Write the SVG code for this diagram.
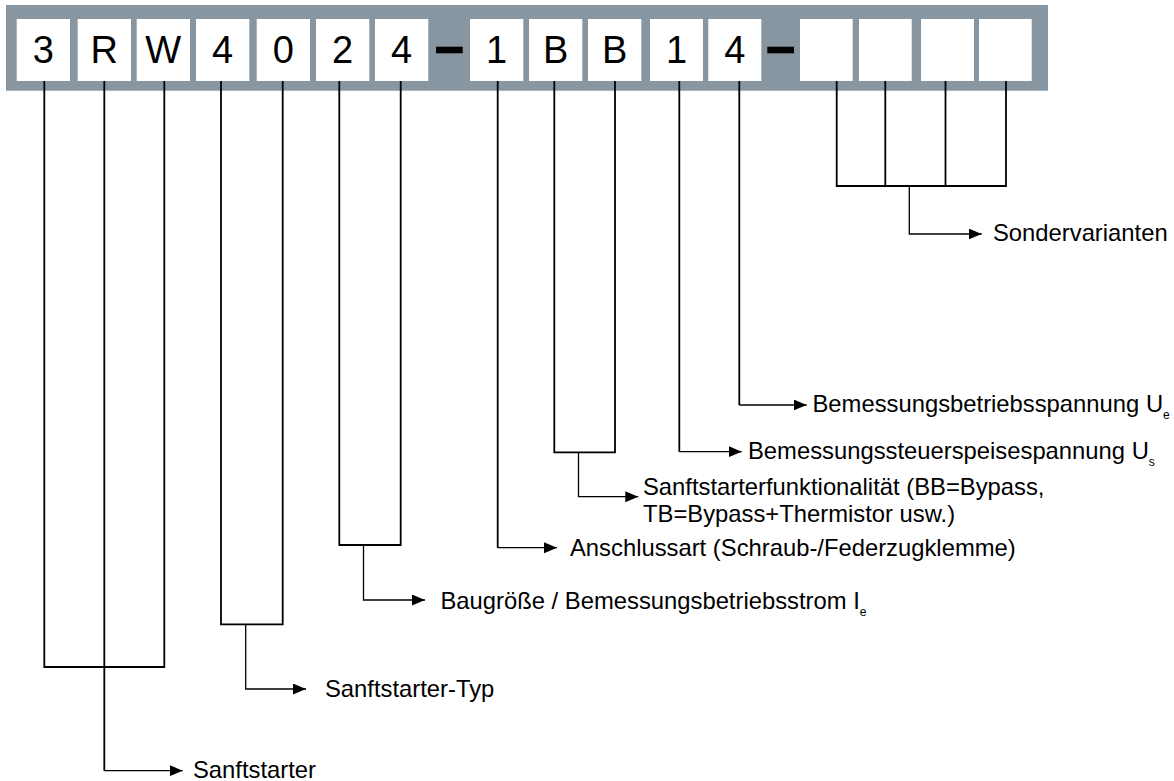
<svg xmlns="http://www.w3.org/2000/svg" width="1174" height="781" viewBox="0 0 1174 781">
<defs>
<style>
.bar{fill:#8896a2}
.box{fill:#ffffff}
.ch{font-family:"Liberation Sans",Arial,sans-serif;font-size:38px;fill:#000;text-anchor:middle}
.dash{fill:#000}
.lbl{font-family:"Liberation Sans",Arial,sans-serif;font-size:23.8px;fill:#000}
.sub{font-size:12px}
.br{fill:none;stroke:#000;stroke-width:1.8}
.ar{fill:none;stroke:#000;stroke-width:1.3;marker-end:url(#ah)}
</style>
<marker id="ah" markerUnits="userSpaceOnUse" markerWidth="14" markerHeight="12" refX="13" refY="5.5" orient="auto">
<path d="M0,0 L13,5.5 L0,11 Z" fill="#000"/>
</marker>
</defs>
<rect width="1174" height="781" fill="#ffffff"/>
<g id="code-bar">
<rect class="bar" x="6" y="5" width="1042" height="85.7"/>
</g>
<g id="c1"><rect class="box" x="16.7" y="19" width="53.3" height="62"/><text class="ch" x="43.3" y="63.3">3</text></g>
<g id="c2"><rect class="box" x="77.7" y="19" width="53.3" height="62"/><text class="ch" x="104.3" y="63.3">R</text></g>
<g id="c3"><rect class="box" x="136.7" y="19" width="53.3" height="62"/><text class="ch" x="163.3" y="63.3">W</text></g>
<g id="c4"><rect class="box" x="196" y="19" width="53.3" height="62"/><text class="ch" x="222.6" y="63.3">4</text></g>
<g id="c5"><rect class="box" x="256.7" y="19" width="53.3" height="62"/><text class="ch" x="283.3" y="63.3">0</text></g>
<g id="c6"><rect class="box" x="316" y="19" width="53.3" height="62"/><text class="ch" x="342.6" y="63.3">2</text></g>
<g id="c7"><rect class="box" x="375" y="19" width="53.3" height="62"/><text class="ch" x="401.6" y="63.3">4</text></g>
<g id="d1"><rect class="dash" x="436" y="46.7" width="26.7" height="6.6"/></g>
<g id="c8"><rect class="box" x="470" y="19" width="53.3" height="62"/><text class="ch" x="496.6" y="63.3">1</text></g>
<g id="c9"><rect class="box" x="529" y="19" width="53.3" height="62"/><text class="ch" x="555.6" y="63.3">B</text></g>
<g id="c10"><rect class="box" x="588" y="19" width="53.3" height="62"/><text class="ch" x="614.6" y="63.3">B</text></g>
<g id="c11"><rect class="box" x="650" y="19" width="53" height="62"/><text class="ch" x="676.5" y="63.3">1</text></g>
<g id="c12"><rect class="box" x="708.3" y="19" width="53" height="62"/><text class="ch" x="734.8" y="63.3">4</text></g>
<g id="d2"><rect class="dash" x="767.3" y="46.7" width="26.7" height="6.6"/></g>
<g id="c13"><rect class="box" x="800" y="19" width="52.7" height="62"/></g>
<g id="c14"><rect class="box" x="859" y="19" width="52.7" height="62"/></g>
<g id="c15"><rect class="box" x="921" y="19" width="53" height="62"/></g>
<g id="c16"><rect class="box" x="979" y="19" width="52.7" height="62"/></g>

<g id="connectors">
<path class="br" d="M44.3,81 V667 H164.3 V81"/>
<path class="br" d="M104.3,81 V770.7"/>
<path class="ar" d="M104.3,770.7 H182.7"/>
<path class="br" d="M221,81 V624.3 H282.7 V81"/>
<path class="ar" d="M245.7,624.3 V689 H306"/>
<path class="br" d="M339.3,81 V545 H400.7 V81"/>
<path class="ar" d="M363.5,545 V600 H425"/>
<path class="br" d="M497.7,81 V547.7"/>
<path class="ar" d="M497.7,547.7 H557"/>
<path class="br" d="M554.3,81 V452.3 H615 V81"/>
<path class="ar" d="M578.5,452.3 V496.7 H638.3"/>
<path class="br" d="M679.3,81 V451.7"/>
<path class="ar" d="M679.3,451.7 H741.7"/>
<path class="br" d="M739.3,81 V405"/>
<path class="ar" d="M739.3,405 H806.7"/>
<path class="br" d="M836.7,81 V186 H1006 V81 M885.3,81 V186 M945.5,81 V186"/>
<path class="ar" d="M909.3,186 V234 H981.7"/>
</g>

<g id="l-sanftstarter"><text class="lbl" x="193" y="777.5">Sanftstarter</text></g>
<g id="l-typ"><text class="lbl" x="325" y="697">Sanftstarter-Typ</text></g>
<g id="l-baugroesse"><text class="lbl" x="440.5" y="609">Baugröße / Bemessungsbetriebsstrom I<tspan class="sub" dy="7">e</tspan></text></g>
<g id="l-anschluss"><text class="lbl" x="570" y="556">Anschlussart (Schraub-/Federzugklemme)</text></g>
<g id="l-funktion"><text class="lbl" x="643" y="495">Sanftstarterfunktionalität (BB=Bypass,</text><text class="lbl" x="643" y="522">TB=Bypass+Thermistor usw.)</text></g>
<g id="l-us"><text class="lbl" x="748" y="459">Bemessungssteuerspeisespannung U<tspan class="sub" dy="7">s</tspan></text></g>
<g id="l-ue"><text class="lbl" x="812.5" y="412">Bemessungsbetriebsspannung U<tspan class="sub" dy="7">e</tspan></text></g>
<g id="l-sonder"><text class="lbl" x="993" y="241">Sondervarianten</text></g>
</svg>
